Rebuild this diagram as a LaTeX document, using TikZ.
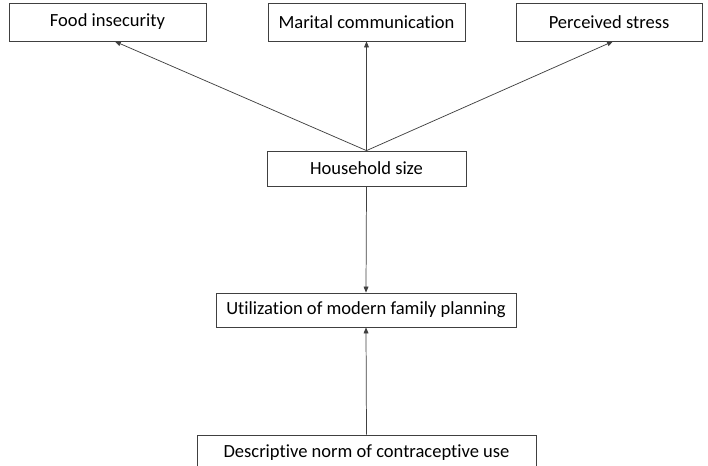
\documentclass[tikz,border=0pt]{standalone}
\usepackage{fontspec}
\setmainfont{Carlito}[Ligatures=NoCommon]
\usetikzlibrary{arrows.meta}

\begin{document}
\begin{tikzpicture}[x=0.75pt,y=0.75pt,yscale=-1,xscale=1,
  box/.style={draw=black!75,line width=0.6pt,inner sep=0pt,minimum height=27pt,font=\fontsize{13.9}{16}\selectfont},
  arr/.style={draw=black!75,line width=0.55pt,-{Triangle[length=4.5pt,width=3.6pt]}}]
\useasboundingbox (0,0) rectangle (708,465);

% Text Node
\node [box,minimum width=147.75pt,minimum height=28.5pt] (food) at (107.5,22) {Food insecurity};
% Text Node
\node [box,minimum width=147.75pt,minimum height=28.5pt] (marital) at (366.5,22) {Marital communication};
% Text Node
\node [box,minimum width=139.5pt,minimum height=28.5pt] (stress) at (609,22) {Perceived stress};
% Text Node
\node [box,minimum width=149.25pt,minimum height=26.25pt] (house) at (366.5,168.5) {Household size};
% Text Node
\node [box,minimum width=225pt,minimum height=25.5pt] (usefp) at (366,310) {Utilization of modern family planning};
% Text Node
\node [box,minimum width=254.25pt,minimum height=26.25pt] (norm) at (366.5,452.5) {Descriptive norm of contraceptive use};

%Straight Lines
\draw [arr] (house.north) -- ([xshift=5.5pt]food.south) ;
\draw [arr] (house.north) -- (marital.south) ;
\draw [arr] (house.north) -- ([xshift=3pt]stress.south) ;
%Straight Lines
\draw [arr] (house.south) -- (usefp.north) ;
\draw [arr] (norm.north) -- (usefp.south) ;

\end{tikzpicture}
\end{document}
